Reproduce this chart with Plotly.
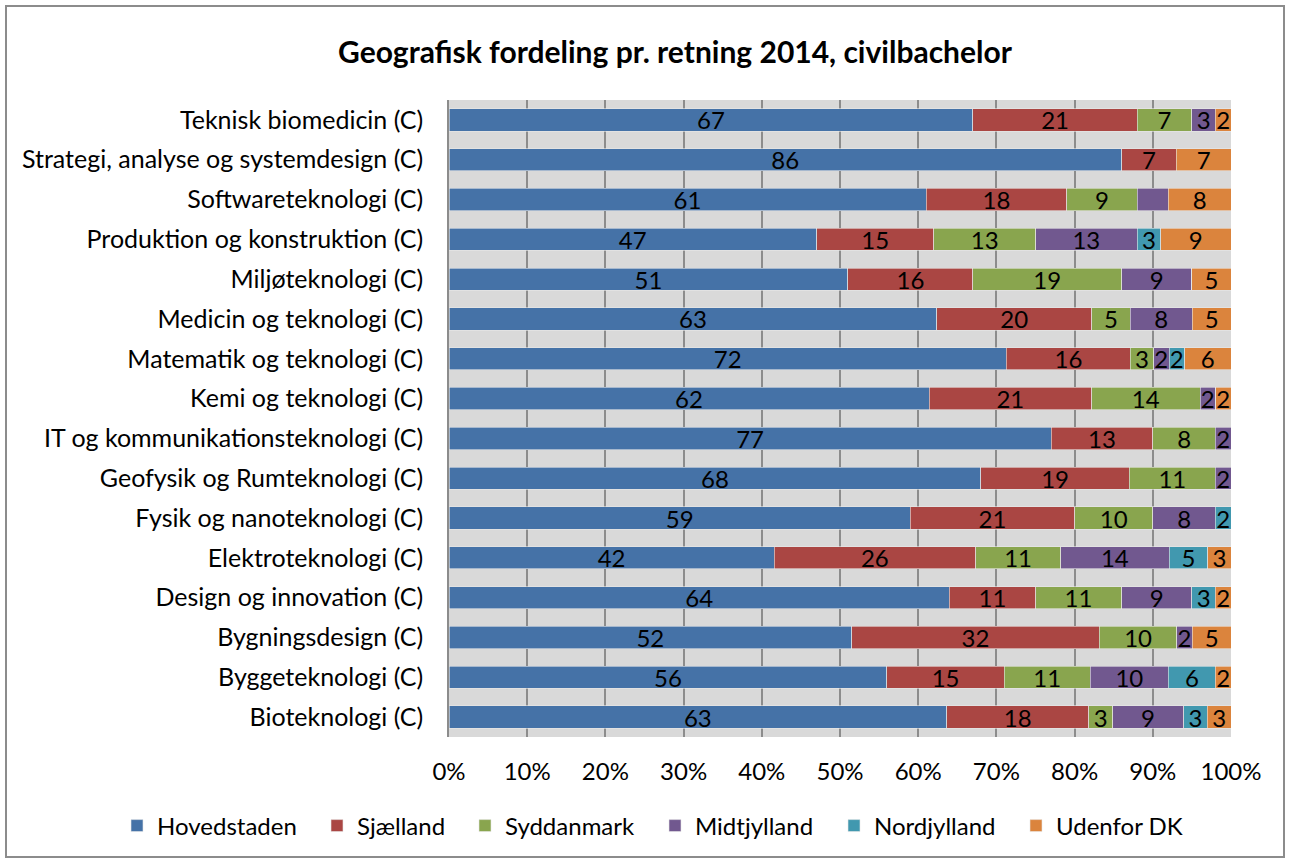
import plotly.graph_objects as go

categories = [
    "Bioteknologi (C)", "Byggeteknologi (C)", "Bygningsdesign (C)", "Design og innovation (C)",
    "Elektroteknologi (C)", "Fysik og nanoteknologi (C)", "Geofysik og Rumteknologi (C)",
    "IT og kommunikationsteknologi (C)", "Kemi og teknologi (C)", "Matematik og teknologi (C)",
    "Medicin og teknologi (C)", "Miljøteknologi (C)", "Produktion og konstruktion (C)",
    "Softwareteknologi (C)", "Strategi, analyse og systemdesign (C)", "Teknisk biomedicin (C)",
]

hovedstaden = [63, 56, 52, 64, 42, 59, 68, 77, 62, 72, 63, 51, 47, 61, 86, 67]
sjaelland    = [18, 15, 32, 11, 26, 21, 19, 13, 21, 16, 20, 16, 15, 18, 7, 21]
syddanmark   = [3, 11, 10, 11, 11, 10, 11, 8, 14, 3, 5, 19, 13, 9, 0, 7]
midtjylland  = [9, 10, 2, 9, 14, 8, 2, 2, 2, 2, 8, 9, 13, 4, 0, 3]
nordjylland  = [3, 6, 0, 3, 5, 2, 0, 0, 0, 2, 0, 0, 3, 0, 0, 0]
udenfor_dk   = [3, 2, 5, 2, 3, 0, 0, 0, 2, 6, 5, 5, 9, 8, 7, 2]

series = [
    ("Hovedstaden", hovedstaden, "#4572A7"),
    ("Sjælland", sjaelland, "#AA4643"),
    ("Syddanmark", syddanmark, "#89A54E"),
    ("Midtjylland", midtjylland, "#71588F"),
    ("Nordjylland", nordjylland, "#4198AF"),
    ("Udenfor DK", udenfor_dk, "#DB843D"),
]
# labels hidden in the original for some segments
hidden = {("Midtjylland", "Softwareteknologi (C)")}

# pixel centres of the legend swatches in the reference
legend_swatch_x = [137, 337, 485, 675, 854, 1036]

FONT = "Lato, Calibri, Carlito, sans-serif"
FS = 24
W, H = 1290, 863
L, R, T, B = 449, 59, 100, 126
pw, ph = W - L - R, H - T - B

fig = go.Figure()
legend_layouts = {}
for i, (name, vals, color) in enumerate(series):
    texts = []
    for c, v in zip(categories, vals):
        texts.append("" if v == 0 or (name, c) in hidden else str(v))
    lg = "legend" if i == 0 else f"legend{i + 1}"
    fig.add_trace(go.Bar(
        y=categories, x=vals, name=name, orientation="h", legend=lg,
        marker=dict(color=color, line=dict(color="#E8E8E8", width=0.6)),
        text=texts, textposition="inside", insidetextanchor="middle", textangle=0,
        textfont=dict(color="black", size=FS, family=FONT),
        constraintext="none", hoverinfo="x+y+name",
    ))
    legend_layouts[lg] = dict(
        orientation="h", x=(legend_swatch_x[i] - 20) / W, xref="container", xanchor="left",
        y=1 - 826 / H, yref="container", yanchor="middle",
        font=dict(size=FS, family=FONT), itemwidth=30, bgcolor="rgba(0,0,0,0)",
    )


def px(x):
    return (x - L) / pw


def py(y):
    return (H - B - y) / ph


fig.update_layout(
    width=W, height=H, barmode="stack", barnorm="percent", bargap=0.44,
    margin=dict(l=L, r=R, t=T, b=B, autoexpand=False),
    paper_bgcolor="white", plot_bgcolor="#D9D9D9",
    font=dict(family=FONT, color="black"),
    title=dict(text="<b>Geografisk fordeling pr. retning 2014, civilbachelor</b>",
               x=675 / W, xref="container", xanchor="center", y=1 - 52 / H, yanchor="middle",
               font=dict(size=30, family=FONT)),
    uniformtext=dict(minsize=FS, mode="show"),
    xaxis=dict(range=[0, 100], tickvals=list(range(0, 101, 10)),
               ticktext=[f"{v}%" for v in range(0, 101, 10)],
               showgrid=True, gridcolor="#8C8C8C", gridwidth=1.5,
               zeroline=False, showline=False, ticks="",
               tickfont=dict(size=FS, family=FONT), ticklabelstandoff=18),
    yaxis=dict(showgrid=False, showline=True, linecolor="#8C8C8C", linewidth=1.5,
               ticks="", tickfont=dict(size=25, family=FONT), ticklabelstandoff=19),
    showlegend=True,
    shapes=[dict(type="rect", xref="paper", yref="paper",
                 x0=px(6), x1=px(1284), y0=py(857), y1=py(6),
                 line=dict(color="#8C8C8C", width=2), fillcolor="rgba(0,0,0,0)", layer="below")],
    **legend_layouts,
)

fig.write_html("out.html", config={"displayModeBar": False},
               post_script="document.body.style.margin='0';document.body.style.overflow='hidden';")
